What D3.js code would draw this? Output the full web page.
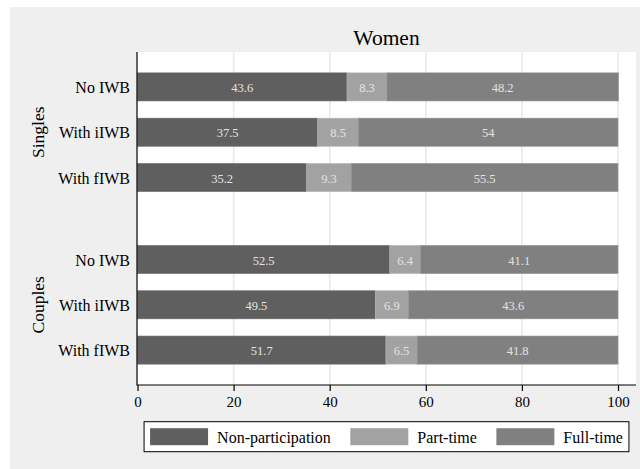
<!DOCTYPE html>
<html>
<head>
<meta charset="utf-8">
<script src="https://cdn.jsdelivr.net/npm/d3@7"></script>
<style>
  html, body { margin: 0; padding: 0; background: #ffffff; }
  svg { display: block; }
  text { font-family: "Liberation Serif", "Times New Roman", serif; }
</style>
</head>
<body>
<svg id="chart" width="640" height="469"></svg>
<script>
// ---- data ----
const title = "Women";
const groups = ["Singles", "Couples"];
const categories = ["No IWB", "With iIWB", "With fIWB"];
const seriesNames = ["Non-participation", "Part-time", "Full-time"];
const nonParticipation = { Singles: [43.6, 37.5, 35.2], Couples: [52.5, 49.5, 51.7] };
const partTime = { Singles: [8.3, 8.5, 9.3], Couples: [6.4, 6.9, 6.5] };
const fullTime = { Singles: [48.2, 54, 55.5], Couples: [41.1, 43.6, 41.8] };
const xTicks = [0, 20, 40, 60, 80, 100];
const colors = ["#5f5f5f", "#a2a2a2", "#808080"];

// ---- layout ----
const svg = d3.select("#chart");
const W = 640, H = 469;
const plot = { left: 137, right: 636, top: 52, bottom: 385 };

svg.append("rect").attr("x", 10).attr("y", 7).attr("width", W - 10).attr("height", H - 7)
  .attr("fill", "#efefef");
svg.append("rect").attr("x", plot.left).attr("y", plot.top)
  .attr("width", plot.right - plot.left).attr("height", plot.bottom - plot.top)
  .attr("fill", "#ffffff");

const x = d3.scaleLinear().domain([0, 100]).range([137.5, 618]);
const yGroup = d3.scaleBand().domain(groups).range([plot.top, plot.bottom])
  .paddingInner(0.2125).paddingOuter(0.071);
const yCat = d3.scaleBand().domain(categories).range([0, yGroup.bandwidth()])
  .paddingInner(0.38).paddingOuter(0.19);

// gridlines
svg.append("g").selectAll("line").data(xTicks.filter(d => d > 0)).join("line")
  .attr("x1", d => x(d)).attr("x2", d => x(d))
  .attr("y1", plot.top).attr("y2", plot.bottom)
  .attr("stroke", "#e8e8e8").attr("stroke-width", 1.5);

// rows
const rows = [];
groups.forEach(g => {
  categories.forEach((c, i) => {
    const vals = [nonParticipation[g][i], partTime[g][i], fullTime[g][i]];
    let acc = 0;
    vals.forEach((v, k) => {
      rows.push({ group: g, cat: c, k, v, x0: acc, x1: acc + v });
      acc += v;
    });
  });
});

const barY = d => yGroup(d.group) + yCat(d.cat);
const bars = svg.append("g");
bars.selectAll("rect").data(rows).join("rect")
  .attr("x", d => x(d.x0))
  .attr("y", d => barY(d))
  .attr("width", d => x(d.x1) - x(d.x0))
  .attr("height", yCat.bandwidth())
  .attr("fill", d => colors[d.k])
  .attr("stroke", d => d3.color(colors[d.k]).brighter(0.35))
  .attr("stroke-width", 0.6);

bars.selectAll("text").data(rows).join("text")
  .attr("x", d => x((d.x0 + d.x1) / 2))
  .attr("y", d => barY(d) + yCat.bandwidth() / 2)
  .attr("dy", "0.42em")
  .attr("text-anchor", "middle")
  .attr("font-size", "12.5px")
  .attr("fill", "#e4e4e4")
  .text(d => d3.format("")(d.v));

// category labels
const catLabels = [];
groups.forEach(g => categories.forEach(c => catLabels.push({ group: g, cat: c })));
svg.append("g").selectAll("text").data(catLabels).join("text")
  .attr("x", plot.left - 7)
  .attr("y", d => yGroup(d.group) + yCat(d.cat) + yCat.bandwidth() / 2)
  .attr("dy", "0.38em")
  .attr("text-anchor", "end")
  .attr("font-size", "16px")
  .attr("fill", "#000")
  .text(d => d.cat);

// group labels
svg.append("g").selectAll("text").data(groups).join("text")
  .attr("transform", d => `translate(43.5, ${yGroup(d) + yGroup.bandwidth() / 2}) rotate(-90)`)
  .attr("text-anchor", "middle")
  .attr("font-size", "17.5px")
  .attr("fill", "#000")
  .text(d => d);

// axes
svg.append("line").attr("x1", plot.left).attr("x2", plot.left)
  .attr("y1", plot.top).attr("y2", plot.bottom + 0.5)
  .attr("stroke", "#000").attr("stroke-width", 1.2);
const xAxis = svg.append("g").attr("transform", `translate(0, ${plot.bottom})`)
  .call(d3.axisBottom(x).tickValues(xTicks).tickSize(6).tickPadding(5).tickSizeOuter(0));
xAxis.select(".domain").remove();
xAxis.append("line").attr("x1", plot.left).attr("x2", plot.right)
  .attr("stroke", "#000").attr("stroke-width", 1.2);
xAxis.selectAll(".tick line").attr("stroke", "#000").attr("stroke-width", 1.2);
xAxis.selectAll(".tick text").attr("font-size", "15px").attr("fill", "#000")
  .attr("font-family", "Liberation Serif, Times New Roman, serif");

// title
svg.append("text").attr("x", (plot.left + plot.right) / 2).attr("y", 45)
  .attr("text-anchor", "middle").attr("font-size", "21.5px").attr("fill", "#000")
  .text(title);

// legend
const legend = svg.append("g");
const sw = 58, sh = 17, tgap = 9, igap = 19.5, pad = 6;
const box = legend.append("rect").attr("fill", "#fff").attr("stroke", "#000").attr("stroke-width", 1);
let cx = 0;
const items = [];
seriesNames.forEach((name, i) => {
  const g = legend.append("g").attr("transform", `translate(${cx},0)`);
  g.append("rect").attr("x", 0).attr("y", 0).attr("width", sw).attr("height", sh)
    .attr("fill", colors[i]);
  const t = g.append("text").attr("x", sw + tgap).attr("y", sh / 2).attr("dy", "0.38em")
    .attr("font-size", "16px").attr("fill", "#000").text(name);
  const len = t.node().getComputedTextLength();
  cx += sw + tgap + len + (i < seriesNames.length - 1 ? igap : 0);
});
const contentW = cx;
const boxW = contentW + 2 * pad;
const boxX = (plot.left + plot.right) / 2 - boxW / 2;
const boxY = 421.7;
box.attr("x", -pad).attr("y", -6.5).attr("width", boxW).attr("height", 30);
legend.attr("transform", `translate(${boxX + pad}, ${boxY + 6.5})`);
</script>
</body>
</html>
